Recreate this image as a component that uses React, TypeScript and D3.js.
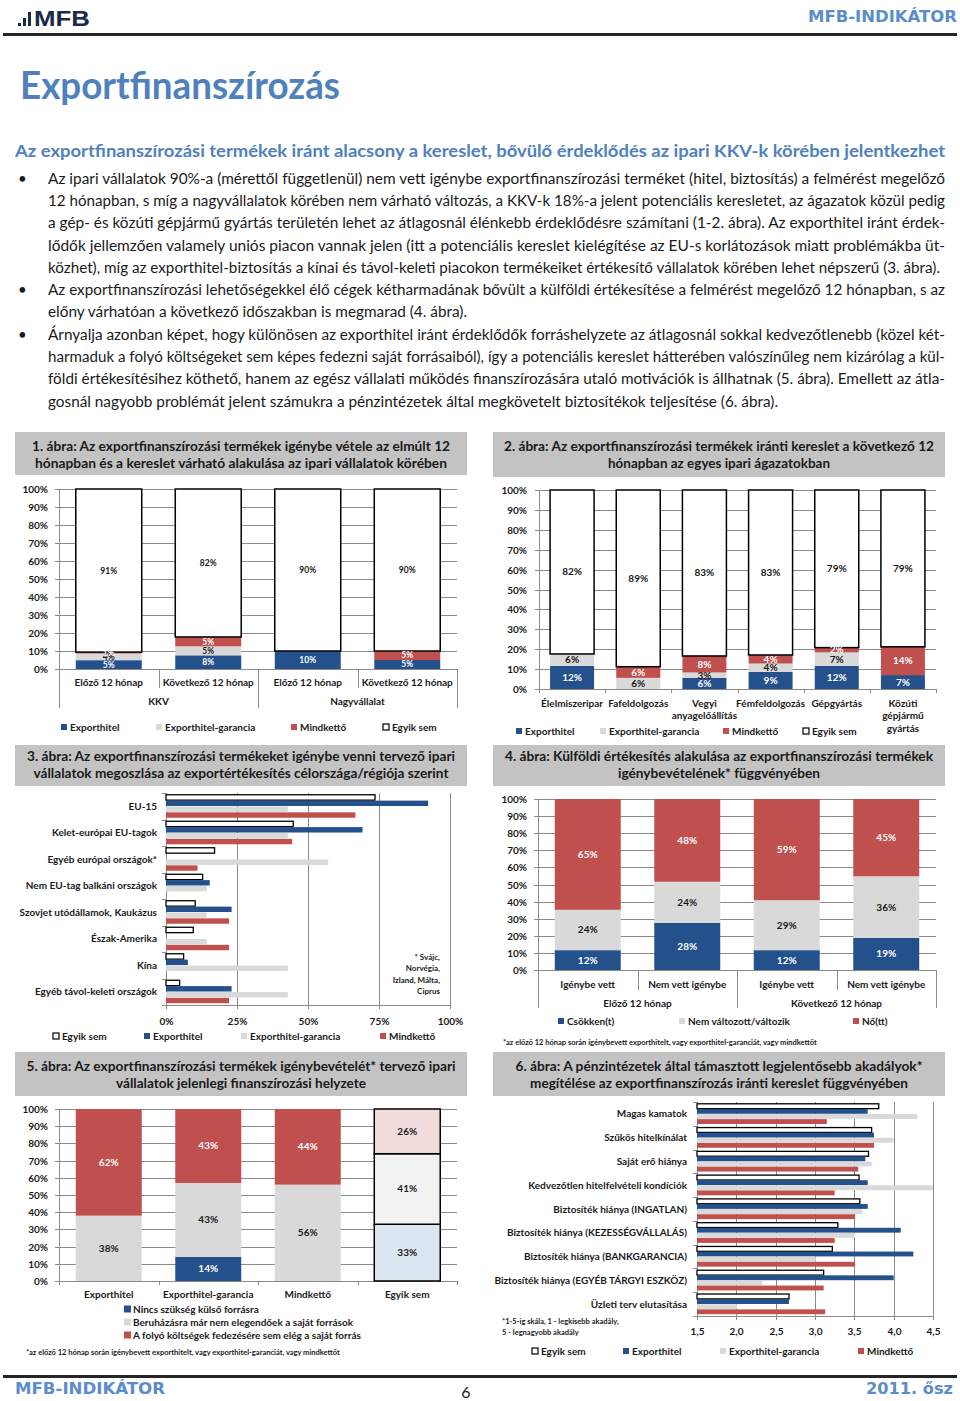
import React from "react";
import * as d3 from "d3";

// ---------------- data ----------------
const seriesNames = ["Exporthitel", "Exporthitel-garancia", "Mindkettő", "Egyik sem"];

const c1Periods = ["Előző 12 hónap", "Következő 12 hónap", "Előző 12 hónap", "Következő 12 hónap"];
const c1Groups = ["KKV", "Nagyvállalat"];
const c1Exporthitel = [4.9, 7.6, 10.0, 5.0];
const c1Garancia = [3.7, 5.0, 0, 0];
const c1Mindketto = [0.8, 5.2, 0, 5.0];
const c1EgyikSem = [90.6, 82.2, 90.0, 90.0];

const c2Sectors = [["Élelmiszeripar"], ["Fafeldolgozás"], ["Vegyi", "anyagelőállítás"], ["Fémfeldolgozás"], ["Gépgyártás"], ["Közúti", "gépjármű", "gyártás"]];
const c2Exporthitel = [11.6, 0, 5.6, 8.6, 11.6, 7.0];
const c2Garancia = [6.0, 5.6, 2.7, 4.2, 6.8, 0];
const c2Mindketto = [0, 5.6, 8.3, 4.3, 2.4, 14.2];
const c2EgyikSem = [82.4, 88.8, 83.4, 82.9, 79.2, 78.8];

const c3Regions = ["EU-15", "Kelet-európai EU-tagok", "Egyéb európai országok*", "Nem EU-tag balkáni országok", "Szovjet utódállamok, Kaukázus", "Észak-Amerika", "Kína", "Egyéb távol-keleti országok"];
const c3EgyikSem = [73.6, 44.8, 17.1, 12.9, 10.3, 9.6, 6.2, 4.8];
const c3Exporthitel = [92.3, 69.2, 0, 15.4, 23.1, 0, 7.7, 23.1];
const c3Garancia = [42.9, 42.9, 57.1, 14.3, 14.3, 14.3, 42.9, 42.9];
const c3Mindketto = [66.7, 44.4, 11.1, 0, 22.2, 22.2, 0, 22.2];
const c3Ticks = [0, 25, 50, 75, 100];
const c3Note = ["* Svájc,", "Norvégia,", "Izland, Málta,", "Ciprus"];

const c4Usage = ["Igénybe vett", "Nem vett igénybe", "Igénybe vett", "Nem vett igénybe"];
const c4Periods = ["Előző 12 hónap", "Következő 12 hónap"];
const c4SeriesNames = ["Csökken(t)", "Nem változott/változik", "Nő(tt)"];
const c4Csokken = [11.6, 27.6, 11.6, 18.8];
const c4NemValtozott = [23.6, 24.0, 29.2, 36.0];
const c4No = [64.8, 48.4, 59.2, 45.2];
const c4Note = "*az előző 12 hónap során igénybevett exporthitelt, vagy exporthitel-garanciát, vagy mindkettőt";

const c5Plans = ["Exporthitel", "Exporthitel-garancia", "Mindkettő", "Egyik sem"];
const c5SeriesNames = ["Nincs szükség külső forrásra", "Beruházásra már nem elegendőek a saját források", "A folyó költségek fedezésére sem elég a saját forrás"];
const c5Nincs = [0, 14, 0, 33];
const c5Beruhazas = [38, 43, 56, 41];
const c5Folyo = [62, 43, 44, 26];
const c5Note = "*az előző 12 hónap során igénybevett exporthitelt, vagy exporthitel-garanciát, vagy mindkettőt";

const c6Obstacles = ["Magas kamatok", "Szűkös hitelkínálat", "Saját erő hiánya", "Kedvezőtlen hitelfelvételi kondíciók", "Biztosíték hiánya (INGATLAN)", "Biztosíték hiánya (KEZESSÉGVÁLLALÁS)", "Biztosíték hiánya (BANKGARANCIA)", "Biztosíték hiánya (EGYÉB TÁRGYI ESZKÖZ)", "Üzleti terv elutasítása"];
const c6EgyikSem = [3.81, 3.72, 3.68, 3.56, 3.57, 3.29, 3.22, 3.11, 2.67];
const c6Exporthitel = [3.67, 3.75, 3.64, 3.67, 3.67, 4.09, 4.25, 4.0, 2.67];
const c6Garancia = [4.3, 4.0, 3.72, 4.5, 3.6, 3.51, 3.01, 2.33, 2.01];
const c6Mindketto = [3.15, 3.75, 3.55, 3.25, 3.51, 3.25, 3.51, 3.11, 3.13];
const c6Ticks = [1.5, 2.0, 2.5, 3.0, 3.5, 4.0, 4.5];
const c6Note = ["*1-5-ig skála, 1 - legkisebb akadály,", "5 - legnagyobb akadály"];

const titles = [
  ["1. ábra: Az exportfinanszírozási termékek igénybe vétele az elmúlt 12", "hónapban és a kereslet várható alakulása az ipari vállalatok körében"],
  ["2. ábra: Az exportfinanszírozási termékek iránti kereslet a következő 12", "hónapban az egyes ipari ágazatokban"],
  ["3. ábra: Az exportfinanszírozási termékeket igénybe venni tervező ipari", "vállalatok megoszlása az exportértékesítés célországa/régiója szerint"],
  ["4. ábra: Külföldi értékesítés alakulása az exportfinanszírozási termékek", "igénybevételének* függvényében"],
  ["5. ábra: Az exportfinanszírozási termékek igénybevételét* tervező ipari", "vállalatok jelenlegi finanszírozási helyzete"],
  ["6. ábra: A pénzintézetek által támasztott legjelentősebb akadályok*", "megítélése az exportfinanszírozás iránti kereslet függvényében"],
];

const pageTitle = "Exportfinanszírozás";
const heading = "Az exportfinanszírozási termékek iránt alacsony a kereslet, bővülő érdeklődés az ipari KKV-k körében jelentkezhet";
const para1 = [
  "Az ipari vállalatok 90%-a (mérettől függetlenül) nem vett igénybe exportfinanszírozási terméket (hitel, biztosítás) a felmérést megelőző",
  "12 hónapban, s míg a nagyvállalatok körében nem várható változás, a KKV-k 18%-a jelent potenciális keresletet, az ágazatok közül pedig",
  "a gép- és közúti gépjármű gyártás területén lehet az átlagosnál élénkebb érdeklődésre számítani (1-2. ábra). Az exporthitel iránt érdek-",
  "lődők jellemzően valamely uniós piacon vannak jelen (itt a potenciális kereslet kielégítése az EU-s korlátozások miatt problémákba üt-",
  "közhet), míg az exporthitel-biztosítás a kínai és távol-keleti piacokon termékeiket értékesítő vállalatok körében lehet népszerű (3. ábra).",
];
const para2 = [
  "Az exportfinanszírozási lehetőségekkel élő cégek kétharmadának bővült a külföldi értékesítése a felmérést megelőző 12 hónapban, s az",
  "előny várhatóan a következő időszakban is megmarad (4. ábra).",
];
const para3 = [
  "Árnyalja azonban képet, hogy különösen az exporthitel iránt érdeklődők forráshelyzete az átlagosnál sokkal kedvezőtlenebb (közel két-",
  "harmaduk a folyó költségeket sem képes fedezni saját forrásaiból), így a potenciális kereslet hátterében valószínűleg nem kizárólag a kül-",
  "földi értékesítésihez köthető, hanem az egész vállalati működés finanszírozására utaló motivációk is állhatnak (5. ábra). Emellett az átla-",
  "gosnál nagyobb problémát jelent számukra a pénzintézetek által megkövetelt biztosítékok teljesítése (6. ábra).",
];

// ---------------- styles ----------------
const FONT = "Lato, 'Open Sans', 'DejaVu Sans', sans-serif";
const BLUE = "#24508C";
const RED = "#C0504D";
const LGRAY = "#D9D9D9";
const GRID = "#8A8A8A";
const INK = "#1A1A1A";
const HEAD_BLUE = "#4F81BD";
const seriesFill = [BLUE, LGRAY, RED, "#FFFFFF"];
const seriesStroke = [null, null, null, "#000"];
const seriesLabelColor = ["#fff", INK, "#fff", INK];

const pct = (v: number) => d3.format(".0f")(v) + "%";
const huLocale = d3.formatLocale({ decimal: ",", thousands: " ", grouping: [3], currency: ["", " Ft"] });
const fmtHu = huLocale.format(".1f");

function stackOf(arrays: number[][]) {
  const keys = arrays.map((_, j) => String(j));
  const rows = arrays[0].map((_, i) => {
    const r: Record<string, number> = {};
    arrays.forEach((a, j) => (r[String(j)] = a[i]));
    return r;
  });
  return d3.stack<Record<string, number>>().keys(keys)(rows);
}

function TitleBox({ x, y, w, h, lines, widths, b0 }: any) {
  return (
    <g>
      <rect x={x} y={y} width={w} height={h} fill="#C3C3C3" />
      {lines.map((t: string, i: number) => (
        <text key={i} x={x + w / 2} y={y + b0 + i * 17} textAnchor="middle" fontWeight="bold" fontSize={14} fill={INK}
          textLength={widths[i]} lengthAdjust="spacingAndGlyphs">{t}</text>
      ))}
    </g>
  );
}

function Legend({ items, y, fontSize = 10, sq = 6 }: any) {
  return (
    <g>
      {items.map((it: any, i: number) => (
        <g key={i}>
          <rect x={it.x} y={y - sq / 2} width={sq} height={sq} fill={it.fill} stroke={it.stroke || "none"} strokeWidth={it.stroke ? 1.2 : 0} />
          <text x={it.x + sq + 3} y={y} dy="0.35em" fontSize={fontSize} fontWeight="bold" fill={INK}>{it.label}</text>
        </g>
      ))}
    </g>
  );
}

function YPct({ x, y, labelX, right }: any) {
  const ticks = d3.range(0, 101, 10);
  const x0 = x.range()[0];
  return (
    <g>
      {ticks.map((t) => {
        const yy = Math.round(y(t)) + 0.5;
        return (
          <g key={t}>
            <line x1={x0 - 4} x2={right} y1={yy} y2={yy} stroke={GRID} strokeWidth={1} />
            <text x={labelX} y={yy} dy="0.35em" textAnchor="end" fontSize={10} fontWeight="bold" fill={INK}>{t}%</text>
          </g>
        );
      })}
      <line x1={Math.round(x0) + 0.5} x2={Math.round(x0) + 0.5} y1={y(100)} y2={y(0)} stroke={GRID} strokeWidth={1} />
    </g>
  );
}

function Columns({ x, y, arrays, fill, stroke, labelColor, labelSize }: any) {
  const st = stackOf(arrays);
  return (
    <g>
      {st.map((layer, j) => (
        <g key={j}>
          {layer.map((p, i) => {
            const v = p[1] - p[0];
            if (v <= 0) return null;
            const s = stroke(j, i);
            return <rect key={i} x={x(i)} width={x.bandwidth()} y={y(p[1])} height={y(p[0]) - y(p[1])}
              fill={fill(j, i)} stroke={s || "none"} strokeWidth={s ? 1.5 : 0} />;
          })}
        </g>
      ))}
      {st.map((layer, j) => (
        <g key={"l" + j}>
          {layer.map((p, i) => {
            const v = p[1] - p[0];
            if (v <= 0) return null;
            return <text key={i} x={(x(i) as number) + x.bandwidth() / 2} y={y((p[0] + p[1]) / 2)} dy="0.35em" textAnchor="middle"
              fontSize={labelSize} fontWeight="bold" fill={labelColor(j, i)}>{pct(v)}</text>;
          })}
        </g>
      ))}
    </g>
  );
}

function colScales(left: number, right: number, top: number, bottom: number, n: number, frac: number) {
  const x = d3.scaleBand<number>().domain(d3.range(n)).range([left, right]).paddingInner(1 - frac).paddingOuter((1 - frac) / 2);
  const y = d3.scaleLinear().domain([0, 100]).range([bottom, top]);
  return { x, y };
}

// ---------------- chart 1 ----------------
function Chart1() {
  const left = 59, right = 457, top = 489, bottom = 669;
  const { x, y } = colScales(left, right, top, bottom, c1Periods.length, 0.663);
  const step = x.step();
  return (
    <g>
      <TitleBox x={15} y={432} w={452} h={43} b0={19} lines={titles[0]} widths={[418, 412]} />
      <YPct x={x} y={y} labelX={48} right={right} />
      <Columns x={x} y={y} arrays={[c1Exporthitel, c1Garancia, c1Mindketto, c1EgyikSem]}
        fill={(j: number) => seriesFill[j]} stroke={(j: number) => seriesStroke[j]} labelColor={(j: number) => seriesLabelColor[j]} labelSize={8.5} />
      {d3.range(c1Periods.length + 1).map((k) => {
        const xx = Math.round(left + k * step) + 0.5;
        return <line key={k} x1={xx} x2={xx} y1={bottom} y2={k % 2 === 0 ? 708 : 688} stroke={GRID} />;
      })}
      {c1Periods.map((p, i) => (
        <text key={i} x={(x(i) as number) + x.bandwidth() / 2} y={682} dy="0.35em" textAnchor="middle" fontSize={10} fontWeight="bold" fill={INK}>{p}</text>
      ))}
      {c1Groups.map((g, i) => (
        <text key={i} x={left + step * (2 * i + 1)} y={701} dy="0.35em" textAnchor="middle" fontSize={10} fontWeight="bold" fill={INK}>{g}</text>
      ))}
      <Legend y={727} items={[
        { x: 61, label: seriesNames[0], fill: seriesFill[0] },
        { x: 156, label: seriesNames[1], fill: seriesFill[1] },
        { x: 291, label: seriesNames[2], fill: seriesFill[2] },
        { x: 383, label: seriesNames[3], fill: "#fff", stroke: "#000" },
      ]} />
    </g>
  );
}

// ---------------- chart 2 ----------------
function Chart2() {
  const left = 539, right = 936, top = 490, bottom = 689;
  const { x, y } = colScales(left, right, top, bottom, c2Sectors.length, 0.665);
  const step = x.step();
  return (
    <g>
      <TitleBox x={493} y={432} w={452} h={45} b0={19} lines={titles[1]} widths={[430, 222]} />
      <YPct x={x} y={y} labelX={527} right={right} />
      {d3.range(c2Sectors.length + 1).map((k) => {
        const xx = Math.round(left + k * step) + 0.5;
        return <line key={k} x1={xx} x2={xx} y1={bottom} y2={bottom + 4} stroke={GRID} />;
      })}
      <Columns x={x} y={y} arrays={[c2Exporthitel, c2Garancia, c2Mindketto, c2EgyikSem]}
        fill={(j: number) => seriesFill[j]} stroke={(j: number) => seriesStroke[j]} labelColor={(j: number) => seriesLabelColor[j]} labelSize={10} />
      {c2Sectors.map((lines, i) => (
        <g key={i}>
          {lines.map((l, k) => (
            <text key={k} x={(x(i) as number) + x.bandwidth() / 2} y={703 + k * 12.5} dy="0.35em" textAnchor="middle" fontSize={10} fontWeight="bold" fill={INK}>{l}</text>
          ))}
        </g>
      ))}
      <Legend y={731} items={[
        { x: 516, label: seriesNames[0], fill: seriesFill[0] },
        { x: 600, label: seriesNames[1], fill: seriesFill[1] },
        { x: 723, label: seriesNames[2], fill: seriesFill[2] },
        { x: 803, label: seriesNames[3], fill: "#fff", stroke: "#000" },
      ]} />
    </g>
  );
}

// ---------------- horizontal grouped bars ----------------
function HBars({ left, right, top, bottom, domain, ticks, tickFmt, cats, arrays, catX, catSize, pIn, pOut, tickY }: any) {
  const x = d3.scaleLinear().domain(domain).range([left, right]);
  const y = d3.scaleBand<number>().domain(d3.range(cats.length)).range([top, bottom]);
  const inner = d3.scaleBand<number>().domain(d3.range(arrays.length)).range([0, y.bandwidth()]).paddingInner(pIn).paddingOuter(pOut);
  const order = [3, 0, 1, 2]; // Egyik sem on top of each group
  return (
    <g>
      {ticks.map((t: number, k: number) => {
        const xx = Math.round(x(t)) + 0.5;
        return (
          <g key={k}>
            <line x1={xx} x2={xx} y1={top} y2={bottom + 4} stroke={GRID} />
            <text x={xx} y={tickY} dy="0.35em" textAnchor="middle" fontSize={10} fontWeight="bold" fill={INK}>{tickFmt(t)}</text>
          </g>
        );
      })}
      <line x1={left} x2={right} y1={Math.round(bottom) + 0.5} y2={Math.round(bottom) + 0.5} stroke={GRID} />
      {d3.range(cats.length + 1).map((k) => {
        const yy = Math.round(top + k * y.step()) + 0.5;
        return <line key={k} x1={left - 4} x2={left} y1={yy} y2={yy} stroke={GRID} />;
      })}
      {cats.map((c: string, i: number) => (
        <g key={i}>
          {order.map((j, pos) => {
            const v = arrays[j][i];
            if (!(v > domain[0])) return null;
            const white = j === 3;
            const yy = (y(i) as number) + (inner(pos) as number);
            return <rect key={j} x={x(domain[0])} y={yy} width={x(v) - x(domain[0])} height={inner.bandwidth()}
              fill={seriesFill[j]} stroke={white ? "#000" : "none"} strokeWidth={white ? 1.3 : 0} />;
          })}
          <text x={catX} y={(y(i) as number) + y.bandwidth() / 2} dy="0.35em" textAnchor="end" fontSize={catSize} fontWeight="bold" fill={INK}>{c}</text>
        </g>
      ))}
    </g>
  );
}

function Chart3() {
  return (
    <g>
      <TitleBox x={15} y={745} w={452} h={41} b0={16} lines={titles[2]} widths={[428, 415]} />
      <HBars left={166} right={450} top={793} bottom={1005} domain={[0, 100]} ticks={c3Ticks} tickFmt={(t: number) => t + "%"}
        cats={c3Regions} arrays={[c3Exporthitel, c3Garancia, c3Mindketto, c3EgyikSem]} catX={157} catSize={10}
        pIn={0.08} pOut={0.3} tickY={1021} />
      {c3Note.map((l, i) => (
        <text key={i} x={440} y={957 + i * 11.5} dy="0.35em" textAnchor="end" fontSize={8} fontWeight="bold" fill={INK}>{l}</text>
      ))}
      <Legend y={1036} items={[
        { x: 53, label: seriesNames[3], fill: "#fff", stroke: "#000" },
        { x: 144, label: seriesNames[0], fill: seriesFill[0] },
        { x: 241, label: seriesNames[1], fill: seriesFill[1] },
        { x: 380, label: seriesNames[2], fill: seriesFill[2] },
      ]} />
    </g>
  );
}

// ---------------- chart 4 ----------------
function Chart4() {
  const left = 538, right = 936, top = 799, bottom = 970;
  const { x, y } = colScales(left, right, top, bottom, c4Usage.length, 0.663);
  const step = x.step();
  const fills = [BLUE, LGRAY, RED];
  const lab = ["#fff", INK, "#fff"];
  return (
    <g>
      <TitleBox x={493} y={745} w={452} h={41} b0={16} lines={titles[3]} widths={[428, 202]} />
      <YPct x={x} y={y} labelX={527} right={right} />
      <Columns x={x} y={y} arrays={[c4Csokken, c4NemValtozott, c4No]}
        fill={(j: number) => fills[j]} stroke={() => null} labelColor={(j: number) => lab[j]} labelSize={10} />
      {d3.range(c4Usage.length + 1).map((k) => {
        const xx = Math.round(left + k * step) + 0.5;
        return <line key={k} x1={xx} x2={xx} y1={bottom} y2={k % 2 === 0 ? 1008 : 990} stroke={GRID} />;
      })}
      {c4Usage.map((p, i) => (
        <text key={i} x={(x(i) as number) + x.bandwidth() / 2} y={984} dy="0.35em" textAnchor="middle" fontSize={10} fontWeight="bold" fill={INK}>{p}</text>
      ))}
      {c4Periods.map((g, i) => (
        <text key={i} x={left + step * (2 * i + 1)} y={1003} dy="0.35em" textAnchor="middle" fontSize={10} fontWeight="bold" fill={INK}>{g}</text>
      ))}
      <Legend y={1021} items={[
        { x: 558, label: c4SeriesNames[0], fill: fills[0] },
        { x: 679, label: c4SeriesNames[1], fill: fills[1] },
        { x: 853, label: c4SeriesNames[2], fill: fills[2] },
      ]} />
      <text x={503} y={1042} dy="0.35em" fontSize={7.5} fontWeight="bold" fill={INK}>{c4Note}</text>
    </g>
  );
}

// ---------------- chart 5 ----------------
function Chart5() {
  const left = 59, right = 457, top = 1109, bottom = 1281;
  const { x, y } = colScales(left, right, top, bottom, c5Plans.length, 0.663);
  const step = x.step();
  const fills = [BLUE, LGRAY, RED];
  const pale = ["#DCE6F2", "#F2F2F2", "#F2DCDB"];
  const lab = ["#fff", INK, "#fff"];
  const last = c5Plans.length - 1;
  return (
    <g>
      <TitleBox x={15} y={1052} w={452} h={44} b0={19} lines={titles[4]} widths={[429, 250]} />
      <YPct x={x} y={y} labelX={48} right={right} />
      <Columns x={x} y={y} arrays={[c5Nincs, c5Beruhazas, c5Folyo]}
        fill={(j: number, i: number) => (i === last ? pale[j] : fills[j])}
        stroke={(j: number, i: number) => (i === last ? "#000" : null)}
        labelColor={(j: number, i: number) => (i === last ? INK : lab[j])} labelSize={10} />
      {d3.range(c5Plans.length + 1).map((k) => {
        const xx = Math.round(left + k * step) + 0.5;
        return <line key={k} x1={xx} x2={xx} y1={bottom} y2={bottom + 4} stroke={GRID} />;
      })}
      {c5Plans.map((p, i) => (
        <text key={i} x={(x(i) as number) + x.bandwidth() / 2} y={1294} dy="0.35em" textAnchor="middle" fontSize={10} fontWeight="bold" fill={INK}>{p}</text>
      ))}
      {c5SeriesNames.map((s, i) => (
        <g key={i}>
          <rect x={124} y={1309 + i * 13 - 3.5} width={7} height={7} fill={fills[i]} />
          <text x={133} y={1309 + i * 13} dy="0.35em" fontSize={10} fontWeight="bold" fill={INK}>{s}</text>
        </g>
      ))}
      <text x={26} y={1352} dy="0.35em" fontSize={7.5} fontWeight="bold" fill={INK}>{c5Note}</text>
    </g>
  );
}

// ---------------- chart 6 ----------------
function Chart6() {
  return (
    <g>
      <TitleBox x={493} y={1052} w={452} h={44} b0={19} lines={titles[5]} widths={[407, 378]} />
      <HBars left={697} right={933} top={1102} bottom={1316} domain={[1.5, 4.5]} ticks={c6Ticks} tickFmt={(t: number) => fmtHu(t)}
        cats={c6Obstacles} arrays={[c6Exporthitel, c6Garancia, c6Mindketto, c6EgyikSem]} catX={687} catSize={10}
        pIn={0.05} pOut={0.35} tickY={1331} />
      {c6Note.map((l, i) => (
        <text key={i} x={502} y={1321 + i * 11} dy="0.35em" fontSize={7.5} fontWeight="bold" fill={INK}>{l}</text>
      ))}
      <Legend y={1351} items={[
        { x: 532, label: seriesNames[3], fill: "#fff", stroke: "#000" },
        { x: 623, label: seriesNames[0], fill: seriesFill[0] },
        { x: 720, label: seriesNames[1], fill: seriesFill[1] },
        { x: 858, label: seriesNames[2], fill: seriesFill[2] },
      ]} />
    </g>
  );
}

// ---------------- page ----------------
function Paragraph({ lines, y0, lastWidth }: any) {
  return (
    <g>
      <text x={18} y={y0} fontSize={15} fill={INK}>•</text>
      {lines.map((l: string, i: number) => (
        <text key={i} x={48} y={y0 + i * 22.2} fontSize={14.5} fill={INK}
          textLength={i === lines.length - 1 ? lastWidth : 897} lengthAdjust="spacingAndGlyphs">{l}</text>
      ))}
    </g>
  );
}

export default function App() {
  return (
    <div style={{ position: "absolute", left: 0, top: 0, width: 960, height: 1401, overflow: "hidden", background: "#fff" }}>
      <svg width={960} height={1401} style={{ display: "block" }} fontFamily={FONT}>
        {/* header */}
        <rect x={18} y={23} width={3} height={3} fill="#1B2A47" />
        <rect x={23} y={18} width={3} height={8} fill="#1B2A47" />
        <rect x={28} y={12} width={3} height={14} fill="#1B2A47" />
        <text x={34} y={26} fontFamily="'Liberation Sans Narrow','Liberation Sans',sans-serif" fontWeight="bold" fontSize={22}
          fill="#1B2A47" textLength={56} lengthAdjust="spacingAndGlyphs">MFB</text>
        <text x={957} y={22} textAnchor="end" fontFamily="'DejaVu Sans',sans-serif" fontWeight="bold" fontSize={15}
          fill="#5B8CCB" textLength={149} lengthAdjust="spacingAndGlyphs">MFB-INDIKÁTOR</text>
        <rect x={3} y={33} width={954} height={3} fill="#262626" />

        <text x={20} y={99} fontSize={38} fontWeight="bold" fill={HEAD_BLUE} textLength={320} lengthAdjust="spacingAndGlyphs">{pageTitle}</text>
        <text x={15} y={157} fontSize={17.5} fontWeight="bold" fill={HEAD_BLUE} textLength={930} lengthAdjust="spacingAndGlyphs">{heading}</text>

        <Paragraph lines={para1} y0={184} lastWidth={892} />
        <Paragraph lines={para2} y0={295} lastWidth={419} />
        <Paragraph lines={para3} y0={340} lastWidth={730} />

        <Chart1 />
        <Chart2 />
        <Chart3 />
        <Chart4 />
        <Chart5 />
        <Chart6 />

        {/* footer */}
        <rect x={3} y={1375} width={954} height={3} fill="#262626" />
        <text x={15} y={1394} fontFamily="'DejaVu Sans',sans-serif" fontWeight="bold" fontSize={15}
          fill="#5B8CCB" textLength={150} lengthAdjust="spacingAndGlyphs">MFB-INDIKÁTOR</text>
        <text x={466} y={1392} dy="0.35em" textAnchor="middle" fontSize={16} fill={INK}>6</text>
        <text x={953} y={1394} textAnchor="end" fontFamily="'DejaVu Sans',sans-serif" fontWeight="bold" fontSize={15}
          fill="#5B8CCB" textLength={87} lengthAdjust="spacingAndGlyphs">2011. ősz</text>
      </svg>
    </div>
  );
}
